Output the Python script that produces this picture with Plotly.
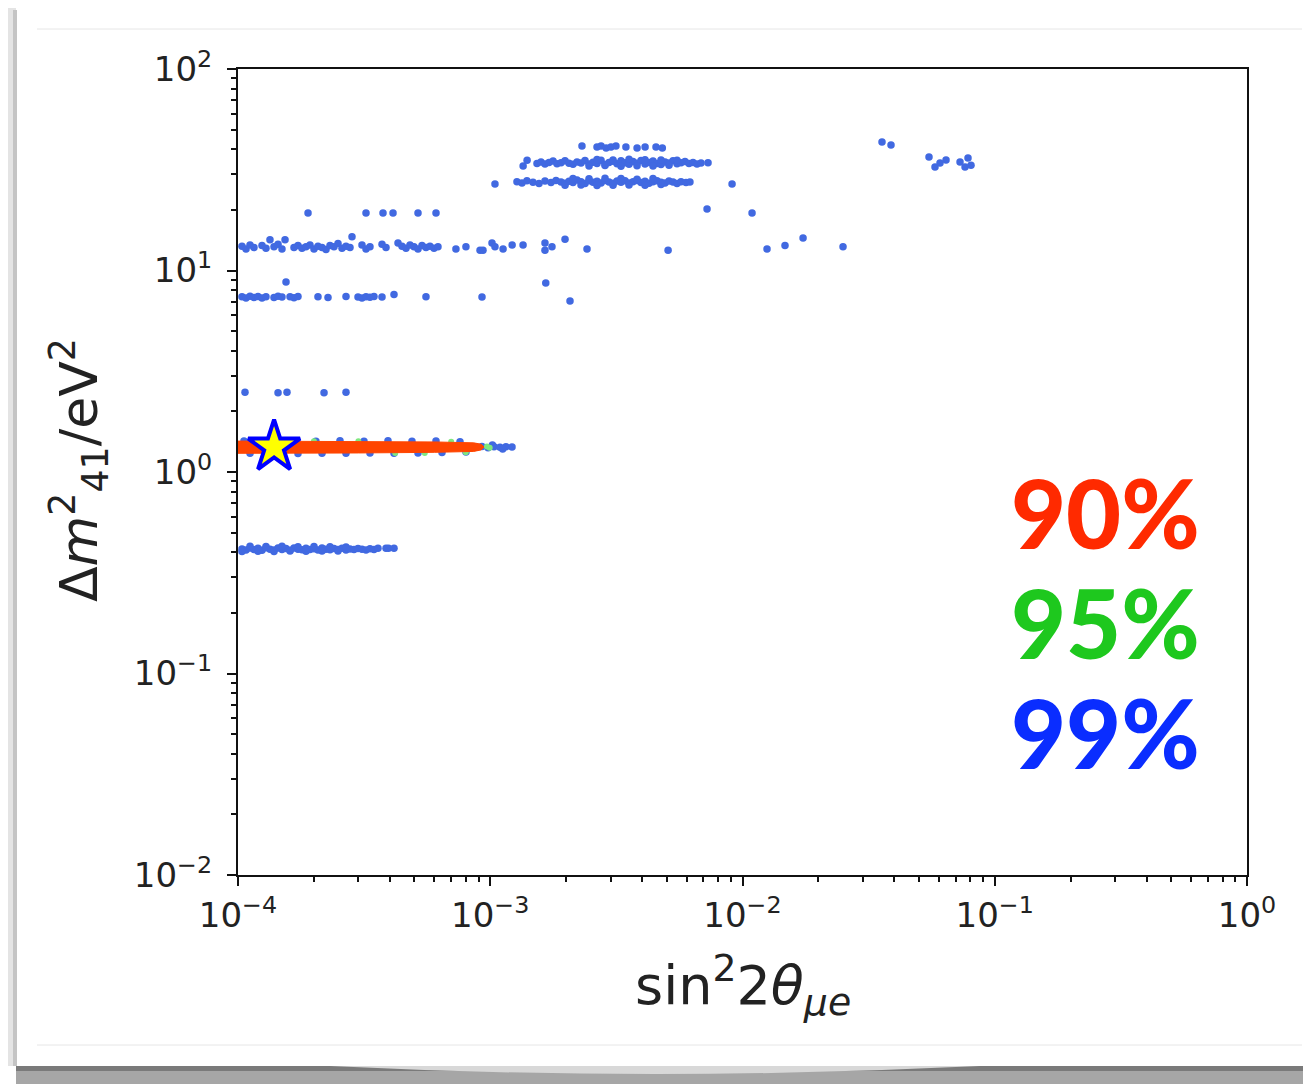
import plotly.graph_objects as go

# ---------------- data ----------------
# 99% C.L. points (blue)
top_x = [2.31e-3, 2.65e-3, 2.75e-3, 2.88e-3, 3.01e-3, 3.15e-3, 3.45e-3, 3.82e-3, 4.11e-3, 4.54e-3, 4.81e-3]
top_y = [41.5, 41.0, 41.5, 40.5, 41.0, 41.5, 41.0, 40.5, 41.0, 41.0, 40.5]

band34_x = [1.350e-3, 1.400e-3, 1.532e-3, 1.589e-3, 1.648e-3, 1.710e-3, 1.774e-3, 1.839e-3, 1.908e-3, 1.979e-3,
            2.052e-3, 2.128e-3, 2.208e-3, 2.290e-3, 2.375e-3, 2.464e-3, 2.555e-3, 2.650e-3, 2.749e-3, 2.851e-3,
            2.957e-3, 3.067e-3, 3.181e-3, 3.299e-3, 3.422e-3, 3.549e-3, 3.681e-3, 3.818e-3, 3.960e-3, 4.107e-3,
            4.260e-3, 4.418e-3, 4.583e-3, 4.753e-3, 4.930e-3, 5.113e-3, 5.303e-3, 5.501e-3, 5.705e-3, 5.917e-3,
            6.137e-3, 6.366e-3, 6.602e-3, 6.848e-3, 7.300e-3,
            2.464e-3, 2.650e-3, 2.851e-3, 3.067e-3, 3.299e-3, 3.549e-3, 3.818e-3, 4.107e-3, 4.418e-3, 4.753e-3,
            5.113e-3, 5.501e-3]
band34_y = [33.0, 35.2, 34.0, 34.6, 33.8, 34.4, 34.9, 33.9, 34.3, 35.0,
            34.1, 33.7, 34.6, 34.2, 35.1, 33.8, 34.5, 34.0, 35.2, 33.6,
            34.4, 34.8, 33.9, 35.0, 34.3, 33.7, 34.7, 34.1, 35.1, 33.8,
            34.4, 34.9, 34.0, 33.6, 34.6, 34.2, 35.0, 33.9, 34.3, 34.7,
            34.0, 34.4, 33.8, 34.2, 34.3,
            33.0, 35.6, 33.2, 35.4, 32.9, 35.7, 33.1, 35.5, 33.0, 35.4,
            33.3, 35.2]

band27_x = [1.276e-3, 1.336e-3, 1.398e-3, 1.477e-3, 1.561e-3, 1.648e-3, 1.741e-3, 1.823e-3, 1.908e-3, 1.979e-3,
            2.052e-3, 2.128e-3, 2.208e-3, 2.290e-3, 2.375e-3, 2.464e-3, 2.555e-3, 2.650e-3, 2.749e-3, 2.851e-3,
            2.957e-3, 3.067e-3, 3.181e-3, 3.299e-3, 3.422e-3, 3.549e-3, 3.681e-3, 3.818e-3, 3.960e-3, 4.107e-3,
            4.260e-3, 4.418e-3, 4.583e-3, 4.753e-3, 4.930e-3, 5.113e-3, 5.303e-3, 5.501e-3, 5.705e-3, 5.970e-3,
            6.190e-3,
            1.979e-3, 2.128e-3, 2.290e-3, 2.464e-3, 2.650e-3, 2.851e-3, 3.067e-3, 3.299e-3, 3.549e-3, 3.818e-3,
            4.107e-3, 4.418e-3, 4.753e-3,
            1.044e-3, 9.09e-3]
band27_y = [27.6, 27.2, 27.9, 27.4, 27.0, 27.8, 27.3, 28.0, 27.5, 27.1,
            27.7, 27.3, 28.1, 27.6, 27.0, 27.9, 27.4, 27.7, 27.2, 28.0,
            27.5, 27.1, 27.8, 27.4, 27.9, 27.2, 27.6, 28.0, 27.3, 27.7,
            27.1, 27.6, 27.9, 27.4, 27.2, 27.8, 27.5, 27.0, 27.6, 27.3,
            27.5,
            26.5, 28.6, 26.6, 28.5, 26.4, 28.7, 26.5, 28.6, 26.6, 28.4,
            26.5, 28.6, 26.7,
            26.9, 26.9]

row19_x = [1.895e-4, 3.217e-4, 3.757e-4, 4.117e-4, 5.171e-4, 6.095e-4, 7.235e-3, 1.091e-2]
row19_y = [19.3, 19.3, 19.3, 19.3, 19.3, 19.3, 20.2, 19.3]

band13_x = [1.037e-4, 1.076e-4, 1.116e-4, 1.157e-4, 1.245e-4, 1.291e-4, 1.339e-4, 1.389e-4, 1.441e-4, 1.494e-4,
            1.667e-4, 1.729e-4, 1.793e-4, 1.860e-4, 1.929e-4, 2.001e-4, 2.075e-4, 2.153e-4, 2.233e-4, 2.316e-4,
            2.402e-4, 2.491e-4, 2.584e-4, 2.680e-4, 2.780e-4, 3.101e-4, 3.217e-4, 3.336e-4, 3.723e-4, 3.861e-4,
            4.308e-4, 4.468e-4, 4.634e-4, 4.807e-4, 4.985e-4, 5.171e-4, 5.363e-4, 5.562e-4, 5.769e-4, 5.984e-4,
            6.206e-4,
            2.831e-4, 1.536e-4,
            7.31e-4, 8.01e-4, 9.11e-4, 9.36e-4, 1.016e-3, 1.044e-3, 1.124e-3, 1.221e-3, 1.349e-3, 1.648e-3,
            1.648e-3, 1.757e-3, 1.979e-3, 2.419e-3, 5.07e-3, 1.251e-2, 1.474e-2, 1.738e-2, 2.503e-2]
band13_y = [13.2, 12.8, 13.4, 13.0, 13.3, 12.9, 14.2, 13.1, 13.5, 12.8,
            13.0, 13.3, 12.9, 13.1, 13.4, 12.8, 13.2, 13.0, 12.7, 13.3,
            13.1, 13.6, 12.9, 13.2, 13.0, 13.4, 12.8, 13.1, 13.5, 13.0,
            13.7, 13.2, 12.9, 13.4, 13.1, 12.8, 13.3, 13.0, 13.2, 12.9,
            13.1,
            14.7, 14.2,
            12.8, 13.1, 12.6, 12.6, 13.7, 13.1, 12.8, 13.4, 13.4, 13.7,
            12.6, 13.1, 14.3, 12.8, 12.6, 12.8, 13.3, 14.5, 13.1]

band7_x = [1.037e-4, 1.076e-4, 1.116e-4, 1.157e-4, 1.200e-4, 1.245e-4, 1.291e-4, 1.389e-4, 1.441e-4, 1.494e-4,
           1.608e-4, 1.667e-4, 1.729e-4,
           2.075e-4, 2.274e-4, 2.680e-4, 2.990e-4, 3.101e-4, 3.217e-4, 3.336e-4, 3.460e-4, 3.723e-4, 4.154e-4,
           5.562e-4, 9.275e-4, 2.071e-3, 1.66e-3, 1.55e-4]
band7_y = [7.40, 7.30, 7.45, 7.35, 7.42, 7.30, 7.40, 7.35, 7.45, 7.38,
           7.40, 7.32, 7.42,
           7.40, 7.35, 7.42, 7.38, 7.30, 7.40, 7.36, 7.44, 7.38, 7.60,
           7.40, 7.39, 7.06, 8.67, 8.76]

row25_x = [1.066e-4, 1.441e-4, 1.564e-4, 2.193e-4, 2.680e-4]
row25_y = [2.49, 2.47, 2.49, 2.47, 2.49]

band04_x = [1.037e-4, 1.076e-4, 1.116e-4, 1.157e-4, 1.200e-4, 1.245e-4, 1.291e-4, 1.339e-4, 1.389e-4, 1.441e-4,
            1.494e-4, 1.550e-4, 1.608e-4, 1.667e-4, 1.729e-4, 1.793e-4, 1.860e-4, 1.929e-4, 2.001e-4, 2.075e-4,
            2.153e-4, 2.233e-4, 2.316e-4, 2.402e-4, 2.491e-4, 2.584e-4, 2.680e-4, 2.780e-4, 2.883e-4, 2.990e-4,
            3.101e-4, 3.217e-4, 3.336e-4, 3.460e-4, 3.589e-4, 3.861e-4, 3.950e-4, 4.154e-4,
            1.037e-4, 1.116e-4, 1.200e-4, 1.291e-4, 1.389e-4, 1.494e-4, 1.608e-4, 1.729e-4, 1.860e-4, 2.001e-4,
            2.153e-4, 2.316e-4, 2.491e-4, 2.680e-4]
band04_y = [0.415, 0.410, 0.420, 0.412, 0.418, 0.409, 0.421, 0.414, 0.410, 0.419,
            0.413, 0.417, 0.409, 0.420, 0.414, 0.411, 0.418, 0.413, 0.416, 0.410,
            0.419, 0.414, 0.411, 0.417, 0.413, 0.418, 0.410, 0.415, 0.412, 0.417,
            0.414, 0.410, 0.416, 0.413, 0.418, 0.418, 0.418, 0.418,
            0.403, 0.428, 0.404, 0.427, 0.403, 0.428, 0.405, 0.426, 0.404, 0.427,
            0.405, 0.426, 0.406, 0.425]

right_x = [3.573e-2, 3.879e-2, 5.487e-2, 5.797e-2, 6.067e-2, 6.410e-2, 7.284e-2, 7.624e-2, 7.834e-2, 8.052e-2]
right_y = [43.4, 42.0, 36.6, 32.6, 34.2, 35.4, 34.6, 32.6, 36.2, 33.3]

# blue points around the best-fit band (edges and tail)
fringe_x = [1.056e-4, 1.315e-4, 1.637e-4, 2.037e-4, 2.537e-4, 3.158e-4, 3.932e-4, 4.895e-4, 6.094e-4, 7.587e-4,
            1.116e-4, 1.389e-4, 1.729e-4, 2.153e-4, 2.680e-4, 3.336e-4, 4.154e-4, 5.171e-4, 6.437e-4, 8.013e-4,
            8.80e-4, 9.27e-4, 9.80e-4, 1.035e-3, 1.093e-3, 1.154e-3, 1.220e-3, 1.020e-3, 1.120e-3]
fringe_y = [1.425, 1.42, 1.43, 1.422, 1.428, 1.42, 1.43, 1.422, 1.425, 1.412,
            1.238, 1.242, 1.236, 1.24, 1.238, 1.243, 1.24, 1.244, 1.248, 1.258,
            1.33, 1.34, 1.32, 1.335, 1.325, 1.335, 1.33, 1.36, 1.30]

# 95% C.L. points (green)
green_x = [9.70e-4, 9.95e-4, 2.0e-4, 3.0e-4, 4.2e-4, 5.5e-4, 7.0e-4, 8.0e-4]
green_y = [1.34, 1.32, 1.42, 1.422, 1.243, 1.241, 1.414, 1.252]

# 90% C.L. region (red)
red_x = [0.95e-4, 3.0e-4, 6.0e-4, 8.6e-4, 9.2e-4, 9.45e-4, 9.2e-4, 8.6e-4, 6.0e-4, 3.0e-4, 0.95e-4]
red_y = [1.424, 1.421, 1.41, 1.395, 1.374, 1.33, 1.287, 1.265, 1.252, 1.243, 1.238]

# best fit point
star_x = [1.39e-4]
star_y = [1.33]

# axes ticks
x_tickvals = [1e-4, 1e-3, 1e-2, 1e-1, 1e0]
x_ticktext = ["10<sup>\u22124</sup>", "10<sup>\u22123</sup>", "10<sup>\u22122</sup>", "10<sup>\u22121</sup>", "10<sup>0</sup>"]
y_tickvals = [1e-2, 1e-1, 1e0, 1e1, 1e2]
y_ticktext = ["10<sup>\u22122</sup>", "10<sup>\u22121</sup>", "10<sup>0</sup>", "10<sup>1</sup>", "10<sup>2</sup>"]
minor_x = [m * 10.0 ** e for e in range(-4, 0) for m in range(2, 10)]
minor_y = [m * 10.0 ** e for e in range(-2, 2) for m in range(2, 10)]

labels = ["90%", "95%", "99%"]
label_colors = ["#ff2a00", "#1ec81e", "#0a2dff"]

# ---------------- figure ----------------
blue_x = top_x + band34_x + band27_x + row19_x + band13_x + band7_x + row25_x + band04_x + right_x + fringe_x
blue_y = top_y + band34_y + band27_y + row19_y + band13_y + band7_y + row25_y + band04_y + right_y + fringe_y
assert len(blue_x) == len(blue_y)

OFF = 8  # default page body margin
W, H = 1311 - OFF, 1084 - OFF
L, R, T, B = 238, 1247, 69, 875  # plot area in page pixels


def pxx(p):
    return (p - L) / (R - L)


def pxy(p):
    return (B - p) / (B - T)


fig = go.Figure()
fig.add_trace(go.Scatter(x=blue_x, y=blue_y, mode="markers",
                         marker=dict(size=7.5, color="#4169e1", line=dict(width=0)),
                         hoverinfo="skip", showlegend=False))
fig.add_trace(go.Scatter(x=green_x, y=green_y, mode="markers",
                         marker=dict(size=6, color="#7fe87f", line=dict(width=0)),
                         hoverinfo="skip", showlegend=False))
fig.add_trace(go.Scatter(x=red_x, y=red_y, mode="lines", fill="toself",
                         fillcolor="#ff4500", line=dict(color="#ff4500", width=1),
                         hoverinfo="skip", showlegend=False))
fig.add_trace(go.Scatter(x=star_x, y=star_y, mode="markers",
                         marker=dict(symbol="star", size=39, color="#ffff00",
                                     line=dict(color="#0000ff", width=4)),
                         hoverinfo="skip", showlegend=False))

axis_common = dict(type="log", showgrid=False, zeroline=False, showline=True, linewidth=2,
                   linecolor="#111", mirror=True, ticks="outside", ticklen=9, tickwidth=2,
                   tickcolor="#111", tickfont=dict(family="DejaVu Sans", size=34, color="#222"))
fig.update_xaxes(range=[-4, 0], tickmode="array", tickvals=x_tickvals, ticktext=x_ticktext,
                 minor=dict(ticks="outside", ticklen=5, tickwidth=1.5, tickcolor="#111",
                            tickmode="array", tickvals=minor_x, showgrid=False),
                 **axis_common)
fig.update_yaxes(range=[-2, 2], tickmode="array", tickvals=y_tickvals, ticktext=y_ticktext,
                 ticklabelstandoff=8,
                 minor=dict(ticks="outside", ticklen=5, tickwidth=1.5, tickcolor="#111",
                            tickmode="array", tickvals=minor_y, showgrid=False),
                 **axis_common)

annotations = [
    dict(text="sin<sup>2</sup>2<i>\u03b8</i><sub><i>\u03bce</i></sub>", x=pxx(743), y=pxy(985),
         xref="paper", yref="paper", showarrow=False, xanchor="center", yanchor="middle",
         font=dict(family="DejaVu Sans", size=54, color="#222")),
    dict(text="\u0394<i>m</i><sup>2</sup><sub>41</sub>/eV<sup>2</sup>", x=pxx(79), y=pxy(470),
         xref="paper", yref="paper", showarrow=False, xanchor="center", yanchor="middle",
         textangle=-90, font=dict(family="DejaVu Sans", size=52, color="#222")),
]
for lab, col, py in zip(labels, label_colors, [512, 622, 732]):
    annotations.append(dict(text=lab, x=pxx(1105), y=pxy(py), xref="paper", yref="paper",
                            showarrow=False, xanchor="center", yanchor="middle",
                            font=dict(family="Lato", size=95, color=col, weight=900)))

shapes = [
    # left card shadow
    dict(type="rect", x0=pxx(6), x1=pxx(16), y0=pxy(8), y1=pxy(1066), fillcolor="#e4e4e4",
         line=dict(width=0), xref="paper", yref="paper", layer="below"),
    dict(type="rect", x0=pxx(13), x1=pxx(17), y0=pxy(10), y1=pxy(1066), fillcolor="#c4c4c4",
         line=dict(width=0), xref="paper", yref="paper", layer="below"),
    # top edge line
    dict(type="line", x0=pxx(16), x1=pxx(1311), y0=pxy(6), y1=pxy(6), line=dict(color="#ececec", width=2),
         xref="paper", yref="paper", layer="below"),
    # inner thin rules
    dict(type="line", x0=pxx(37), x1=pxx(1302), y0=pxy(29), y1=pxy(29), line=dict(color="#e6e6e6", width=1),
         xref="paper", yref="paper", layer="below"),
    dict(type="line", x0=pxx(37), x1=pxx(1302), y0=pxy(1045), y1=pxy(1045), line=dict(color="#e6e6e6", width=1),
         xref="paper", yref="paper", layer="below"),
    # bottom shadow
    dict(type="rect", x0=pxx(16), x1=pxx(1311), y0=pxy(1066), y1=pxy(1084), fillcolor="#a6a6a6",
         line=dict(width=0), xref="paper", yref="paper", layer="below"),
    dict(type="rect", x0=pxx(16), x1=pxx(1311), y0=pxy(1066), y1=pxy(1071), fillcolor="#7a7a7a",
         line=dict(width=0), xref="paper", yref="paper", layer="below"),
    dict(type="path",
         path="M {} {} Q {} {} {} {} Z".format(pxx(330), pxy(1066), pxx(655), pxy(1082), pxx(980), pxy(1066)),
         fillcolor="#d8d8d8", line=dict(width=0), xref="paper", yref="paper", layer="below"),
]

fig.update_layout(width=W, height=H, margin=dict(l=L - OFF, r=W - (R - OFF), t=T - OFF, b=H - (B - OFF)),
                  paper_bgcolor="white", plot_bgcolor="white", showlegend=False,
                  annotations=annotations, shapes=shapes)

fig.write_html("out.html")
